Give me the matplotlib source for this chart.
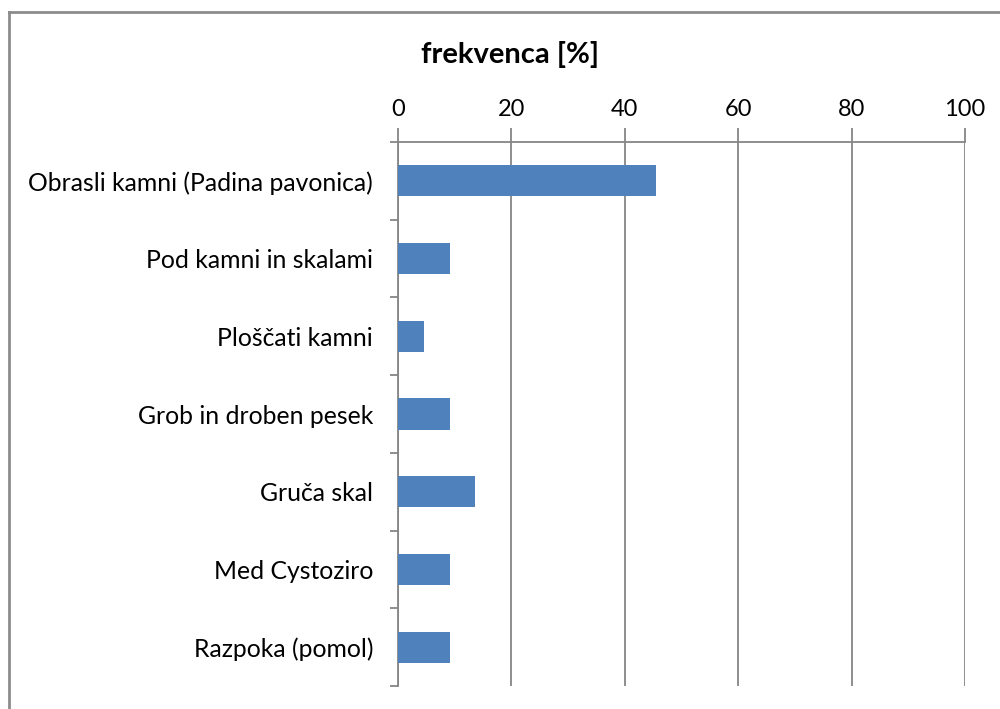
import matplotlib.pyplot as plt
from matplotlib.lines import Line2D

categories = ['Obrasli kamni (Padina pavonica)', 'Pod kamni in skalami',
              'Ploščati kamni', 'Grob in droben pesek', 'Gruča skal',
              'Med Cystoziro', 'Razpoka (pomol)']
freq = [45.5, 9.1, 4.5, 9.1, 13.6, 9.1, 9.1]
x_ticks = [0, 20, 40, 60, 80, 100]

plt.rcParams['font.family'] = ['Lato', 'DejaVu Sans']

fig = plt.figure(figsize=(10, 7.09), dpi=100)
ax = fig.add_axes([0.398, 0.0324, 0.567, 0.7673])

pos = list(range(len(categories)))
ax.barh(pos, freq, height=0.4, color='#4f81bd', zorder=3)
ax.set_ylim(len(categories) - 0.5, -0.5)
ax.set_xlim(0, 100)

ax.xaxis.tick_top()
ax.set_xticks(x_ticks)
ax.set_xticklabels([str(t) for t in x_ticks], fontsize=17)
ax.tick_params(axis='x', length=10, width=1.3, color='#868686', pad=6)
ax.grid(axis='x', color='#868686', linewidth=1.3, zorder=0)

ax.set_yticks([p - 0.5 for p in pos] + [len(pos) - 0.5])
ax.set_yticklabels([])
ax.set_yticks(pos, minor=True)
ax.set_yticklabels(categories, minor=True, fontsize=17.8)
ax.tick_params(axis='y', which='major', length=6, width=1.3, color='#868686')
ax.tick_params(axis='y', which='minor', length=0, pad=18)

for s in ['right', 'bottom']:
    ax.spines[s].set_visible(False)
for s in ['left', 'top']:
    ax.spines[s].set_color('#868686')
    ax.spines[s].set_linewidth(1.3)

fig.text(0.51, 0.923, 'frekvenca [%]', ha='center', va='center',
         fontsize=21, fontweight='bold')

# outer chart border (only left and top visible)
fig.add_artist(Line2D([0.0085, 0.0085], [0, 0.983], transform=fig.transFigure,
                      color='#8c8c8c', linewidth=2))
fig.add_artist(Line2D([0.0085, 1], [0.983, 0.983], transform=fig.transFigure,
                      color='#8c8c8c', linewidth=2))

fig.savefig('out.png', dpi=100)
